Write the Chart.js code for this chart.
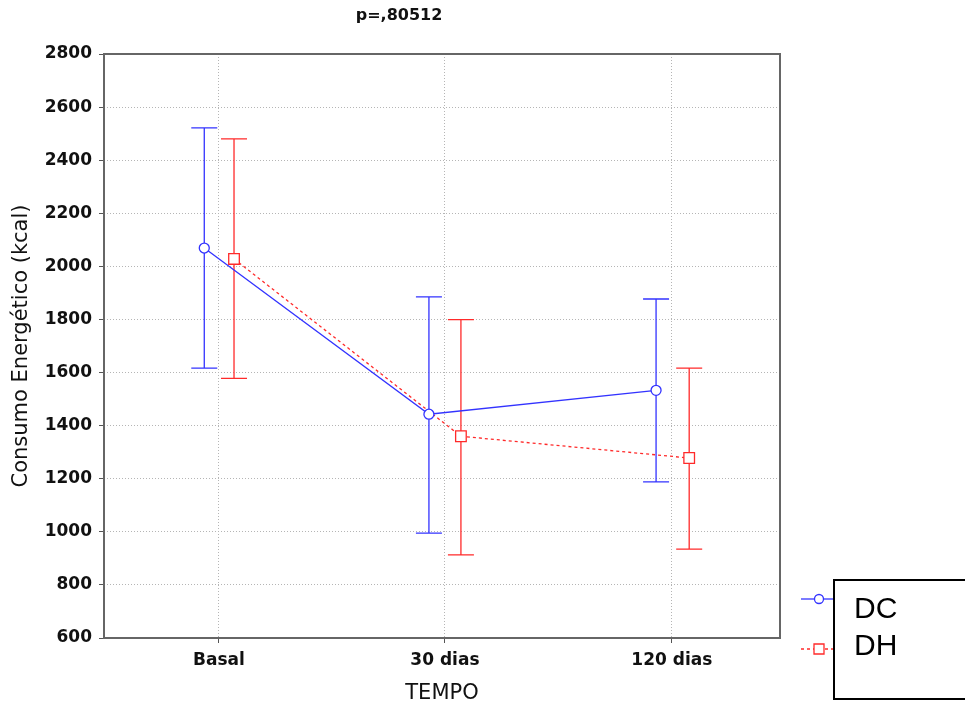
<!DOCTYPE html>
<html>
<head>
<meta charset="utf-8">
<script src="https://cdn.jsdelivr.net/npm/chart.js@4.4.1/dist/chart.umd.min.js"></script>
<style>
  html, body { margin: 0; padding: 0; background: #fff; }
  #wrap { width: 965px; height: 706px; }
</style>
</head>
<body>
<div id="wrap"><canvas id="chartTempo"></canvas></div>
<script>
// data ------------------------------------------------------------
const categories = ['Basal', '30 dias', '120 dias'];
const yTicks = [600, 800, 1000, 1200, 1400, 1600, 1800, 2000, 2200, 2400, 2600, 2800];

const dcMean = [2069, 1443, 1533];
const dcUpper = [2522, 1885, 1877];
const dcLower = [1617, 995, 1188];

const dhMean = [2028, 1360, 1278];
const dhUpper = [2480, 1799, 1617];
const dhLower = [1578, 913, 935];

const pText = 'p=,80512';
const seriesNames = ['DC', 'DH'];

// position inside each category slot
const catPos = [0.51, 1.513, 2.52];
const dcPos = [0.445, 1.442, 2.45];
const dhPos = [0.577, 1.584, 2.597];

const blue = '#3333ff';
const red = '#ff2a2a';
const fontName = '"DejaVu Sans", sans-serif';
const legendFont = '"Liberation Sans", Arial, sans-serif';

function pts(xs, ys) {
    return ys.map((v, i) => ({ x: xs[i], y: v }));
}

// error bars, frame, title and legend ----------------------------
const extras = {
    id: 'extras',
    beforeDatasetsDraw(chart) {
        const ctx = chart.ctx;
        const xs = chart.scales.x, ys = chart.scales.y;
        const bars = [
            [dcPos, dcUpper, dcLower, blue],
            [dhPos, dhUpper, dhLower, red]
        ];
        ctx.save();
        ctx.lineWidth = 1.3;
        bars.forEach(b => {
            ctx.strokeStyle = b[3];
            for (let i = 0; i < b[0].length; i++) {
                const x = xs.getPixelForValue(b[0][i]);
                const y1 = ys.getPixelForValue(b[1][i]);
                const y2 = ys.getPixelForValue(b[2][i]);
                ctx.beginPath();
                ctx.moveTo(x, y1); ctx.lineTo(x, y2);
                ctx.moveTo(x - 13, y1); ctx.lineTo(x + 13, y1);
                ctx.moveTo(x - 13, y2); ctx.lineTo(x + 13, y2);
                ctx.stroke();
            }
        });
        ctx.restore();
    },
    afterDraw(chart) {
        const ctx = chart.ctx;
        const a = chart.chartArea;
        ctx.save();
        // frame
        ctx.strokeStyle = '#666';
        ctx.lineWidth = 2;
        ctx.strokeRect(a.left, a.top, a.right - a.left, a.bottom - a.top);
        // title
        ctx.fillStyle = '#111';
        ctx.font = 'bold 16px ' + fontName;
        ctx.textAlign = 'center';
        ctx.textBaseline = 'middle';
        ctx.fillText(pText, 399, 16);
        // legend
        ctx.strokeStyle = '#000';
        ctx.lineWidth = 2;
        ctx.strokeRect(834, 580, 140, 119);
        const rows = [[599, blue, [], 'circle', 610], [649, red, [3, 3], 'square', 647]];
        rows.forEach((r, i) => {
            ctx.strokeStyle = r[1];
            ctx.lineWidth = 1.3;
            ctx.setLineDash(r[2]);
            ctx.beginPath();
            ctx.moveTo(801, r[0]); ctx.lineTo(833, r[0]);
            ctx.stroke();
            ctx.setLineDash([]);
            ctx.fillStyle = '#fff';
            ctx.beginPath();
            if (r[3] === 'circle') {
                ctx.arc(819, r[0], 4.5, 0, Math.PI * 2);
            } else {
                ctx.rect(814, r[0] - 5, 10, 10);
            }
            ctx.fill(); ctx.stroke();
            ctx.fillStyle = '#000';
            ctx.font = '30px ' + legendFont;
            ctx.textAlign = 'left';
            ctx.textBaseline = 'middle';
            ctx.fillText(seriesNames[i], 854, r[4]);
        });
        ctx.restore();
    }
};

function chartTempo() {
    const dataTempo = {
        datasets: [{
            label: seriesNames[0],
            data: pts(dcPos, dcMean),
            borderColor: blue,
            borderWidth: 1.3,
            backgroundColor: '#fff',
            pointStyle: 'circle',
            pointRadius: 5,
            pointBorderWidth: 1.3,
            showLine: true
        }, {
            label: seriesNames[1],
            data: pts(dhPos, dhMean),
            borderColor: red,
            borderWidth: 1.3,
            borderDash: [3, 3],
            backgroundColor: '#fff',
            pointStyle: 'rect',
            pointRadius: 7.5,
            pointBorderWidth: 1.3,
            showLine: true
        }]
    };

    const configTempo = {
        type: 'scatter',
        data: dataTempo,
        plugins: [extras],
        options: {
            responsive: false,
            animation: false,
            layout: { padding: { top: 54, right: 185, left: 0, bottom: 0 } },
            plugins: { legend: { display: false }, tooltip: { enabled: false } },
            scales: {
                x: {
                    type: 'linear',
                    min: 0, max: 3,
                    afterBuildTicks(scale) {
                        scale.ticks = catPos.map(v => ({ value: v }));
                    },
                    afterFit(scale) { scale.height = 68; },
                    ticks: {
                        callback: (v, i) => categories[i],
                        color: '#111',
                        font: { family: fontName, size: 17, weight: 'bold' },
                        padding: 7,
                        maxRotation: 0
                    },
                    grid: { color: '#b5b5b5', tickColor: '#555', tickLength: 5 },
                    border: { display: false, dash: [1, 2] },
                    title: {
                        display: true, text: 'TEMPO', color: '#111',
                        font: { family: fontName, size: 21 }, padding: { top: 0, bottom: 0 }
                    }
                },
                y: {
                    min: 600, max: 2800,
                    afterBuildTicks(scale) {
                        scale.ticks = yTicks.map(v => ({ value: v }));
                    },
                    afterFit(scale) { scale.width = 104; },
                    ticks: {
                        callback: v => String(v),
                        color: '#111',
                        font: { family: fontName, size: 17, weight: 'bold' },
                        padding: 7
                    },
                    grid: { color: '#b5b5b5', tickColor: '#555', tickLength: 5 },
                    border: { display: false, dash: [1, 2] },
                    title: {
                        display: true, text: 'Consumo Energético (kcal)', color: '#111',
                        font: { family: fontName, size: 21 }, padding: { top: 9, bottom: 0 }
                    }
                }
            }
        }
    };

    const canvas = document.getElementById('chartTempo');
    canvas.width = 965;
    canvas.height = 706;
    const myChartTempo = new Chart(canvas, configTempo);
}

chartTempo();
</script>
</body>
</html>
